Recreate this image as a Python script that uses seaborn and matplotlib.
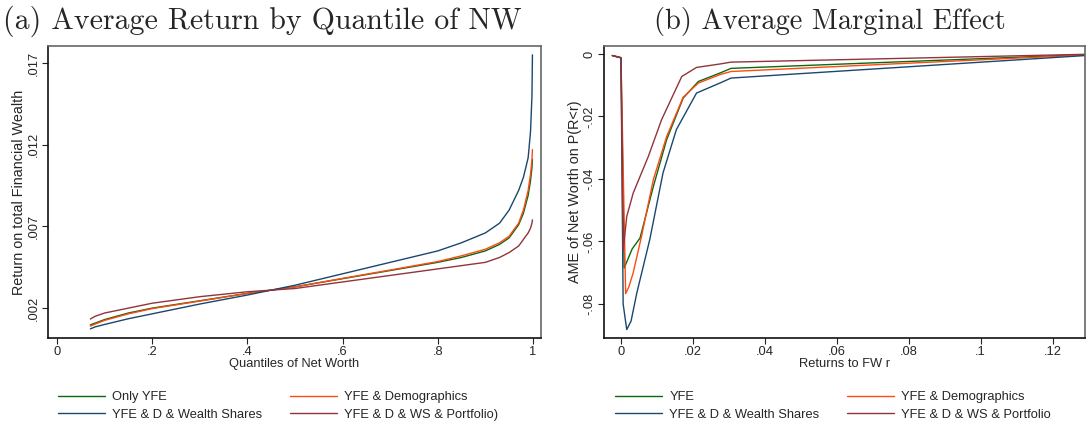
import numpy as np
import pandas as pd
import matplotlib
matplotlib.use("Agg")
import matplotlib.pyplot as plt
import seaborn as sns
from matplotlib.lines import Line2D

# ---------------- data: panel (a) ----------------
quant_x = [0.07, 0.075, 0.08, 0.10, 0.15, 0.20, 0.30, 0.40, 0.45, 0.50, 0.60, 0.70,
           0.80, 0.85, 0.90, 0.93, 0.95, 0.97, 0.98, 0.99, 0.995, 0.998, 0.999]
ret_only_yfe = [0.00097, 0.00103, 0.00108, 0.0013, 0.0017, 0.0020, 0.00245, 0.0029, 0.0031,
                0.0033, 0.0038, 0.0043, 0.0048, 0.0051, 0.0055, 0.0059, 0.0063, 0.0071,
                0.0078, 0.0089, 0.0098, 0.0106, 0.0111]
ret_demog = [0.00090, 0.00096, 0.00102, 0.00125, 0.00165, 0.00197, 0.00243, 0.0029, 0.0031,
             0.0033, 0.00382, 0.00433, 0.00485, 0.0052, 0.0056, 0.0060, 0.0064, 0.0072,
             0.0080, 0.0092, 0.0102, 0.0111, 0.0117]
ret_wshares = [0.00073, 0.00079, 0.00085, 0.0010, 0.00135, 0.00165, 0.00225, 0.0028, 0.0031,
               0.0034, 0.0041, 0.0048, 0.0055, 0.0060, 0.0066, 0.0072, 0.0080, 0.0092,
               0.0100, 0.0112, 0.0128, 0.0150, 0.0175]
ret_portf = [0.00133, 0.00142, 0.0015, 0.0017, 0.0020, 0.0023, 0.0027, 0.0030, 0.0031,
             0.0032, 0.0036, 0.0040, 0.0044, 0.0046, 0.0048, 0.0051, 0.0054, 0.0058,
             0.0062, 0.0066, 0.0069, 0.0072, 0.0074]

# ---------------- data: panel (b) ----------------
r_yfe = [-0.0024, 0.0, 0.0009, 0.0031, 0.0053, 0.009, 0.0127, 0.0173, 0.0215, 0.0275, 0.0306, 0.129]
ame_yfe = [-0.0005, -0.0012, -0.0685, -0.0624, -0.0589, -0.0424, -0.0274, -0.0141, -0.0088, -0.0061, -0.0046, -0.0002]
r_demog = [-0.0024, 0.0, 0.0013, 0.0022, 0.0034, 0.0057, 0.009, 0.0127, 0.0173, 0.0215, 0.0275, 0.0306, 0.129]
ame_demog = [-0.0005, -0.0012, -0.0767, -0.0745, -0.0700, -0.0584, -0.0402, -0.0264, -0.0138, -0.0093, -0.0066, -0.0056, -0.0003]
r_wshares = [-0.0024, 0.0, 0.0006, 0.0016, 0.0028, 0.0044, 0.008, 0.0117, 0.0154, 0.021, 0.0275, 0.0306, 0.129]
ame_wshares = [-0.0005, -0.0012, -0.0800, -0.0882, -0.0855, -0.0765, -0.0594, -0.0380, -0.0242, -0.0125, -0.0093, -0.0077, -0.0005]
r_portf = [-0.0024, 0.0, 0.0006, 0.0016, 0.0034, 0.0076, 0.0113, 0.0169, 0.021, 0.0275, 0.0306, 0.129]
ame_portf = [-0.0005, -0.0012, -0.0630, -0.0520, -0.0445, -0.0328, -0.0210, -0.0072, -0.0043, -0.0032, -0.0026, -0.0001]

labels_a = ["Only YFE", "YFE & Demographics", "YFE & D & Wealth Shares", "YFE & D & WS & Portfolio)"]
labels_b = ["YFE", "YFE & Demographics", "YFE & D & Wealth Shares", "YFE & D & WS & Portfolio"]
x_ticks_a = [0, 0.2, 0.4, 0.6, 0.8, 1.0]
x_ticklabels_a = ["0", ".2", ".4", ".6", ".8", "1"]
y_ticks_a = [0.002, 0.007, 0.012, 0.017]
y_ticklabels_a = [".002", ".007", ".012", ".017"]
x_ticks_b = [0, 0.02, 0.04, 0.06, 0.08, 0.10, 0.12]
x_ticklabels_b = ["0", ".02", ".04", ".06", ".08", ".1", ".12"]
y_ticks_b = [0, -0.02, -0.04, -0.06, -0.08]
y_ticklabels_b = ["0", "-.02", "-.04", "-.06", "-.08"]

colors = ["#0a6a12", "#ff4a12", "#1a476f", "#90353b"]

# ---------------- build frames ----------------
df_a = pd.concat([
    pd.DataFrame({"x": quant_x, "y": ys, "model": lab})
    for ys, lab in zip([ret_only_yfe, ret_demog, ret_wshares, ret_portf], labels_a)
], ignore_index=True)
df_b = pd.concat([
    pd.DataFrame({"x": xs, "y": ys, "model": lab})
    for xs, ys, lab in zip([r_yfe, r_demog, r_wshares, r_portf],
                           [ame_yfe, ame_demog, ame_wshares, ame_portf], labels_b)
], ignore_index=True)

sns.set_theme(style="white")
plt.rcParams["font.family"] = ["Liberation Sans", "DejaVu Sans"]

W, H = 1086, 425
fig = plt.figure(figsize=(W / 100, H / 100), dpi=100)
axA = fig.add_axes([48 / W, (H - 338) / H, (541 - 48) / W, (338 - 46) / H])
axB = fig.add_axes([604 / W, (H - 338) / H, (1085 - 604) / W, (338 - 46) / H])

fs = 9.3
lw = 1.0

sns.lineplot(data=df_a, x="x", y="y", hue="model", hue_order=labels_a, palette=colors,
             estimator=None, sort=False, linewidth=lw, legend=False, ax=axA)
sns.lineplot(data=df_b, x="x", y="y", hue="model", hue_order=labels_b, palette=colors,
             estimator=None, sort=False, linewidth=lw, legend=False, ax=axB)

axA.set_xlim(-0.019, 1.017)
axA.set_ylim(0.000171, 0.01804)
axB.set_xlim(-0.00472, 0.1290)
axB.set_ylim(-0.0909, 0.00256)

for ax, xt, xtl, yt, ytl, xl, yl in [
    (axA, x_ticks_a, x_ticklabels_a, y_ticks_a, y_ticklabels_a,
     "Quantiles of Net Worth", "Return on total Financial Wealth"),
    (axB, x_ticks_b, x_ticklabels_b, y_ticks_b, y_ticklabels_b,
     "Returns to FW r", "AME of Net Worth on P(R<r)"),
]:
    ax.set_xticks(xt)
    ax.set_xticklabels(xtl, fontsize=fs)
    ax.set_yticks(yt)
    ax.set_yticklabels(ytl, fontsize=fs, rotation=90, va="center")
    ax.set_xlabel(xl, fontsize=fs, labelpad=0)
    ax.set_ylabel(yl, fontsize=10.4, labelpad=1)
    ax.tick_params(axis="both", which="major", direction="out", length=4, width=0.8,
                   color="#222222", pad=2, bottom=True, left=True)
    for s in ax.spines.values():
        s.set_visible(True)
        s.set_color("#111111")
        s.set_linewidth(1.2)
    ax.spines["top"].set_color("#666666")
    ax.spines["right"].set_color("#666666")
    ax.grid(False)

# legends
order = [0, 2, 1, 3]
for ax, labs, x0 in [(axA, labels_a, 58), (axB, labels_b, 615)]:
    handles = [Line2D([], [], color=colors[i], lw=lw) for i in order]
    ax.legend(handles, [labs[i] for i in order], ncol=2, frameon=False, fontsize=fs,
              loc="upper left", bbox_to_anchor=(x0 / W, 1 - 391 / H),
              bbox_transform=fig.transFigure, borderpad=0, borderaxespad=0,
              handlelength=3.6, handletextpad=0.6, columnspacing=2.15, labelspacing=0.45)

fig.text(262 / W, 1 - 29 / H, "(a) Average Return by Quantile of NW", fontname="cmr10",
         fontsize=21.5, ha="center", va="baseline")
fig.text(830 / W, 1 - 29 / H, "(b) Average Marginal Effect", fontname="cmr10",
         fontsize=20.5, ha="center", va="baseline")

fig.savefig("out.png", dpi=100)
